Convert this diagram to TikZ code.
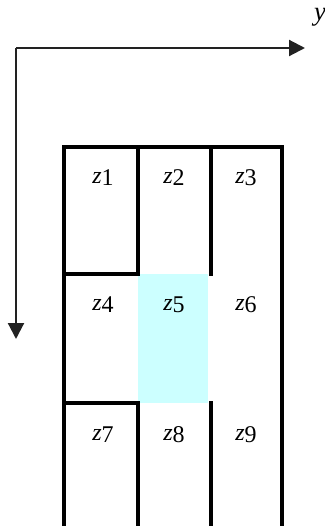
\documentclass[tikz,border=0pt]{standalone}
\usepackage{fontspec}
\setmainfont{Liberation Serif}
\usetikzlibrary{arrows.meta}
\definecolor{cellcyan}{HTML}{CCFFFF}
\definecolor{axisgray}{HTML}{222222}
\tikzset{
  axis/.style={draw=axisgray, line width=1.6pt, -{Triangle[length=12pt,width=12pt]}},
  wall/.style={draw=black, line width=2.4pt, line cap=rect},
  cell/.style={inner sep=0pt, font=\fontsize{18}{20}\selectfont},
}
\newcommand{\zlab}[1]{\textit{z}\raisebox{-1.5pt}{#1}}
\begin{document}
\begin{tikzpicture}[x=0.75pt, y=-0.75pt]
  \useasboundingbox (0,0) rectangle (325,526);

  % highlighted centre cell
  \fill[cellcyan] (138,274) rectangle (208,403);

  % coordinate axes
  \coordinate (o) at (16,48);
  \coordinate (yend) at (305,48);
  \coordinate (xend) at (16,339);
  \draw[axis] (o) -- (yend);
  \draw[axis] (o) -- (xend);
  \node[font=\fontsize{20}{22}\selectfont\itshape, anchor=center, inner sep=0pt] (ylab) at (320,17) {y};

  % grid walls
  \begin{scope}
    \clip (0,0) rectangle (325,526);
    \draw[wall] (64,540) -- (64,147) -- (282,147) -- (282,540);
    \draw[wall] (138,147) -- (138,274);
    \draw[wall] (211,147) -- (211,274);
    \draw[wall] (138,403) -- (138,540);
    \draw[wall] (211,403) -- (211,540);
    \draw[wall] (64,274) -- (138,274);
    \draw[wall] (64,403) -- (138,403);
  \end{scope}

  % cell labels
  \node[cell] (z1) at (103,178) {\zlab{1}};
  \node[cell] (z2) at (174,178) {\zlab{2}};
  \node[cell] (z3) at (246,178) {\zlab{3}};
  \node[cell] (z4) at (103,305) {\zlab{4}};
  \node[cell] (z5) at (174,305) {\zlab{5}};
  \node[cell] (z6) at (246,305) {\zlab{6}};
  \node[cell] (z7) at (103,435) {\zlab{7}};
  \node[cell] (z8) at (174,435) {\zlab{8}};
  \node[cell] (z9) at (246,435) {\zlab{9}};
\end{tikzpicture}
\end{document}
